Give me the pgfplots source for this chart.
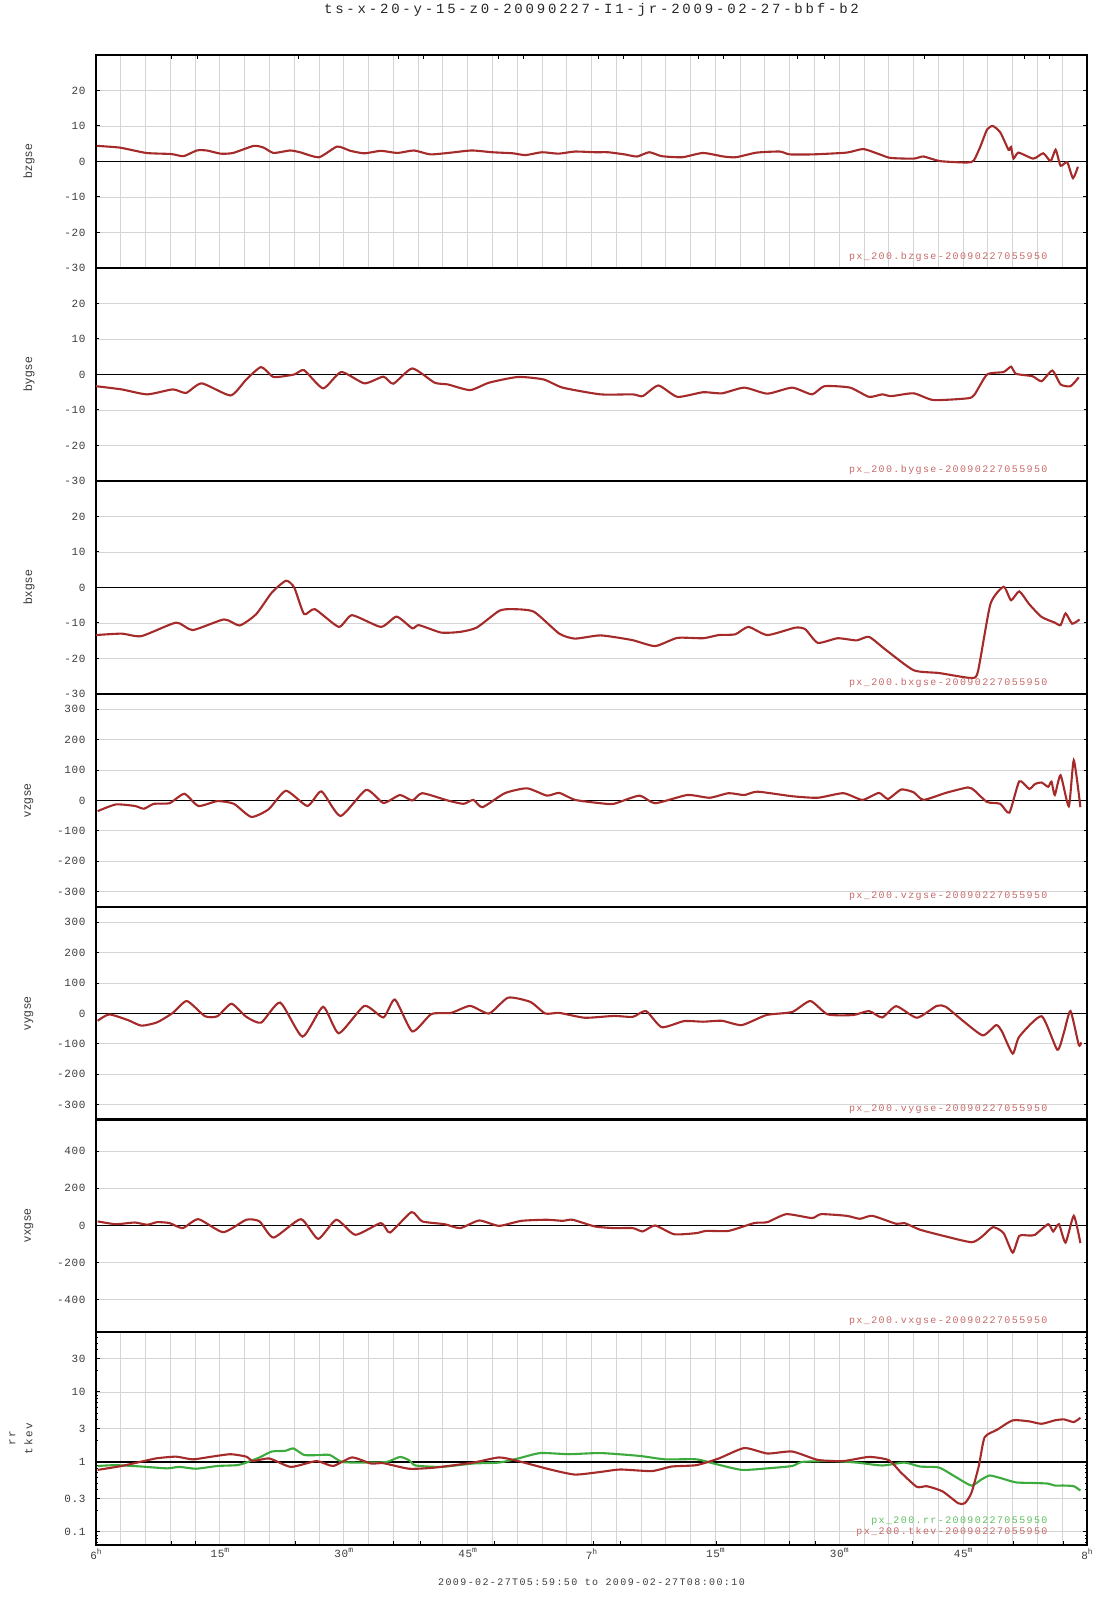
\documentclass[border=0pt]{standalone}
\usepackage{pgfplots}
\pgfplotsset{compat=1.18}
\usepackage{fontspec}
\setmainfont{Liberation Mono}
\newfontfamily\tickf[LetterSpace=6]{Liberation Mono}
\newfontfamily\annf[LetterSpace=14]{Liberation Mono}
\newfontfamily\titlef[LetterSpace=20]{Liberation Mono}
\newfontfamily\labf[LetterSpace=5]{Liberation Sans}
\definecolor{dred}{RGB}{165,42,42}
\definecolor{dgreen}{RGB}{60,170,60}
\definecolor{annred}{RGB}{198,105,105}
\definecolor{anngreen}{RGB}{95,190,95}
\definecolor{gridc}{RGB}{212,212,212}
\definecolor{tickc}{RGB}{60,60,60}
\pgfplotsset{
 panel/.style={
   scale only axis, width=991pt, height=213pt, xmin=0, xmax=120,
   anchor=south west,
   axis line style={black, line width=1.5pt},
   minor xtick={0,3,...,120}, xminorgrids, minor tick length=0pt,
   minor grid style={gridc, line width=0.9pt},
   major grid style={gridc, line width=0.9pt},
   xtick=\empty,
   ymajorgrids,
   major tick length=3.5pt,
   tick style={black, line width=1pt},
   yticklabel style={font=\tickf\fontsize{11}{12}\selectfont, text=tickc, xshift=-7pt},
   xticklabel style={font=\tickf\fontsize{11}{12}\selectfont, text=tickc},
   ylabel style={font=\labf\fontsize{12}{14}\selectfont, text=tickc, at={(axis description cs:-0.0676,0.5)}, anchor=center},
   every axis plot/.append style={line width=2.1pt, smooth, tension=0.35},
 },
 bfield/.style={ymin=-30, ymax=30, ytick={-30,-20,-10,0,10,20}, yticklabels={-30,-20,-10,0,10,20}},
 vfield/.style={ymin=-350, ymax=350, ytick={-300,-200,-100,0,100,200,300}, yticklabels={-300,-200,-100,0,100,200,300}},
}
\newcommand{\ann}[1]{\node[anchor=base east, font=\annf\fontsize{10}{12}\selectfont, text=annred] at (rel axis cs:0.9637,0.0376) {#1};}
\newcommand{\zeroline}{\addplot[black, line width=1.5pt, forget plot, sharp plot] coordinates {(0,0) (120,0)};}
\newcommand{\tsup}[1]{\raisebox{5pt}{\fontsize{8}{8}\selectfont #1}}
\begin{document}
\begin{tikzpicture}
\useasboundingbox (0,0) rectangle (1107pt,1600pt);
% ---------- bzgse
\begin{axis}[panel, bfield, at={(96pt,1332pt)}, ylabel={bzgse},
  xtick={9.2,12.3,24.5,36.6,39.7,48.7,51.8,60.8,63.9,72.9,76,85,88.2,100.3,112.4,115.4}, xticklabels={}, xtick pos=right, major tick length=4pt,
  title={ts-x-20-y-15-z0-20090227-I1-jr-2009-02-27-bbf-b2},
  title style={at={(axis description cs:0.5,1)}, anchor=base, yshift=35pt, font=\titlef\fontsize{14}{16}\selectfont, text=black!85}]
\zeroline
\addplot[dred] coordinates {(0.1,4.4) (2.9,3.9) (6.1,2.4) (9.1,2.1) (10.6,1.5) (12.2,3.1) (13.4,3.1) (15.1,2.2) (16.6,2.4) (19.1,4.4) (20.3,3.9) (21.5,2.4) (23.5,3.1) (24.7,2.6) (27,1.2) (29.2,4.2) (30.8,3.0) (32.5,2.3) (34.5,3.0) (36.5,2.4) (38.5,3.1) (40.5,2.0) (43,2.5) (45.5,3.1) (48,2.6) (50.5,2.3) (52,1.8) (54,2.6) (56,2.2) (58,2.8) (60.5,2.6) (62,2.6) (64,2.0) (65.5,1.4) (67,2.6) (68.5,1.5) (71,1.2) (73.5,2.4) (76,1.4) (77.5,1.2) (80,2.5) (82.8,2.8) (84,2.0) (86.8,2.0) (90.9,2.5) (92.9,3.5) (94.9,2.0) (96.2,1.0) (99,0.8) (100.2,1.4) (102.2,0.1) (105.5,-0.3) (106.3,0.3) (107.1,4.3) (107.9,9.0) (108.6,10.0) (109.5,8.2) (110.5,3.3) (110.8,4.1) (111.1,0.8) (111.7,2.5) (113.5,0.8) (114.7,2.3) (115.6,0.1) (116.2,3.3) (116.8,-1.2) (117.6,-0.2) (118.3,-4.7) (118.9,-1.5)};
\ann{px\_200.bzgse-20090227055950}
\end{axis}
% ---------- bygse
\begin{axis}[panel, bfield, at={(96pt,1119pt)}, ylabel={bygse}]
\zeroline
\addplot[dred] coordinates {(0,-3.3) (3.1,-4.2) (6.2,-5.6) (9.3,-4.2) (10.9,-5.2) (12.8,-2.5) (16.3,-5.9) (18.2,-1.4) (20,2.1) (21.5,-0.7) (24,0) (25.2,1.2) (27.5,-3.9) (29.7,0.7) (32.5,-2.5) (34.8,-0.6) (36,-2.6) (38.3,1.7) (41,-2.3) (42.6,-2.8) (45.3,-4.4) (47.6,-2.3) (51.1,-0.7) (54.2,-1.4) (56.5,-3.7) (61.1,-5.6) (65,-5.6) (66.2,-6.1) (68.1,-3.1) (70.4,-6.3) (73.5,-5) (75.8,-5.3) (78.5,-3.7) (81.3,-5.4) (84.3,-3.7) (86.7,-5.6) (88.2,-3.3) (91.3,-3.7) (93.6,-6.3) (95.2,-5.6) (96.3,-6.1) (99,-5.3) (101.4,-7.2) (105.6,-6.7) (106.4,-5.6) (107.9,0) (109.9,0.7) (110.8,2.2) (111.4,0.2) (113.4,-0.5) (114.5,-1.9) (115.8,1.1) (116.8,-2.8) (118,-3.3) (119,-0.8)};
\ann{px\_200.bygse-20090227055950}
\end{axis}
% ---------- bxgse
\begin{axis}[panel, bfield, at={(96pt,906pt)}, ylabel={bxgse}]
\zeroline
\addplot[dred] coordinates {(0,-13.4) (3.1,-13.0) (5.5,-13.7) (9.7,-9.9) (11.7,-12) (15.5,-9) (17.4,-10.7) (19.4,-7.5) (21.3,-1.4) (23,1.9) (24,0) (25.2,-7.5) (26.5,-6.1) (29.4,-11.1) (31,-7.8) (34.5,-11.1) (36.4,-8.2) (38.3,-11.5) (39.1,-10.6) (41.8,-12.7) (44.1,-12.5) (46.1,-11.3) (48.8,-6.6) (50.3,-6.1) (53,-6.8) (56.1,-13) (58,-14.4) (61.1,-13.5) (64.9,-14.8) (67.7,-16.5) (70.4,-14.2) (73.5,-14.3) (75.4,-13.4) (77.4,-13.2) (79,-11.1) (81.3,-13.4) (84.7,-11.3) (85.9,-11.8) (87.4,-15.6) (89.8,-14.3) (92.1,-14.9) (93.6,-13.9) (95.6,-17.5) (99,-23.3) (102.1,-24.1) (106,-25.5) (106.8,-23.6) (108.3,-4.7) (109.9,0.2) (110.8,-3.6) (111.8,-1.1) (113,-4.7) (114.5,-8.3) (116.1,-9.9) (116.8,-10.6) (117.4,-7.3) (118.2,-10.2) (119.1,-9)};
\ann{px\_200.bxgse-20090227055950}
\end{axis}
% ---------- vzgse
\begin{axis}[panel, vfield, at={(96pt,693pt)}, ylabel={vzgse}]
\zeroline
\addplot[dred] coordinates {(0.2,-35) (2.4,-13) (4.7,-18) (5.8,-27) (7,-11) (8.9,-9) (10.7,22) (12.4,-18) (14.7,-2) (16.7,-11) (18.8,-54) (20.9,-29) (23,32) (25.6,-18) (27.3,30) (29.6,-51) (32.7,35) (34.8,-8) (36.8,18) (38.3,0) (39.5,24) (42.6,0) (44.5,-11) (45.7,2) (46.8,-22) (49.5,24) (52.2,40) (54.6,16) (56.1,25) (58,2) (61.1,-9) (62.7,-11) (65.8,16) (67.7,-9) (71.6,18) (74.3,9) (76.6,24) (78.5,18) (80.1,29) (84.3,14) (87.4,9) (90.5,24) (92.8,2) (94.8,25) (95.9,5) (97.5,36) (99,27) (100.2,2) (102.9,25) (105.6,43) (106.4,32) (107.9,-5) (109.5,-11) (110.6,-40) (111.8,63) (113,38) (113.7,54) (114.5,59) (115.3,45) (115.7,62) (116.1,18) (116.8,83) (117.8,-19) (118.4,132) (119.2,-22)};
\ann{px\_200.vzgse-20090227055950}
\end{axis}
% ---------- vygse
\begin{axis}[panel, vfield, at={(96pt,480pt)}, ylabel={vygse}]
\zeroline
\addplot[dred] coordinates {(0.2,-24) (1.6,-3) (3.9,-22) (5.5,-40) (7.4,-29) (9.3,2) (11,41) (13.2,-9) (14.7,-9) (16.4,32) (18.2,-11) (20,-30) (22.3,36) (25,-76) (27.5,22) (29.4,-65) (32.5,25) (34.8,-13) (36.2,46) (38.3,-59) (40.6,-2) (43,2) (45.3,25) (47.6,0) (49.9,52) (52.6,38) (54.4,0) (56.1,2) (59.2,-14) (62.7,-8) (65,-11) (66.6,8) (68.5,-45) (71.2,-25) (73.5,-27) (75.8,-24) (78.2,-38) (81.2,-5) (84.3,5) (86.5,41) (88.6,-3) (91.7,-5) (93.6,8) (95.2,-13) (96.9,24) (99.4,-14) (101.8,25) (102.9,22) (105.2,-29) (107.4,-72) (109,-38) (109.7,-59) (111,-132) (111.8,-76) (114.5,-9) (116.4,-119) (117.2,-63) (118,8) (119,-103) (119.3,-95)};
\ann{px\_200.vygse-20090227055950}
\end{axis}
% ---------- vxgse
\begin{axis}[panel, at={(96pt,268pt)}, ylabel={vxgse}, ymin=-573, ymax=573, ytick={-400,-200,0,200,400}, yticklabels={-400,-200,0,200,400}]
\zeroline
\addplot[dred] coordinates {(0.2,22) (2.4,7) (4.7,16) (6.2,4) (7.4,18) (8.9,13) (10.5,-14) (12.4,34) (15.4,-36) (18.2,31) (19.8,22) (21.5,-65) (24.8,34) (26.9,-72) (29.1,31) (31.4,-50) (34.5,13) (35.6,-38) (38.2,72) (39.5,22) (42.2,7) (44.1,-14) (46.4,27) (48.8,-2) (51.5,25) (54.6,31) (56.5,25) (57.7,31) (60.4,-5) (62.7,-14) (65,-14) (66.2,-32) (67.7,0) (70,-47) (72.7,-41) (73.9,-29) (76.6,-29) (79.7,13) (81.3,18) (83.6,61) (86.7,40) (87.8,61) (90.9,52) (92.5,36) (94,52) (96.9,9) (97.9,13) (99.8,-23) (102.9,-59) (106,-90) (107.2,-63) (108.6,-9) (109.9,-41) (111,-146) (111.8,-56) (113,-54) (113.7,-50) (115.3,7) (115.9,-32) (116.6,7) (117.4,-92) (118.4,52) (119.2,-95)};
\ann{px\_200.vxgse-20090227055950}
\end{axis}
% ---------- rr / tkev
\begin{axis}[panel, at={(96pt,55pt)}, ymode=log, ymin=0.065, ymax=72,
  ytick={0.1,0.3,1,3,10,30}, yticklabels={0.1,0.3,1,3,10,30},
  extra y ticks={0.07,0.08,0.09,0.2,0.4,0.5,0.6,0.7,0.8,0.9,2,4,5,6,7,8,9,20,40,50,60,70},
  extra y tick labels={}, extra y tick style={grid=none, major tick length=2pt},
  xtick={9.1,12.1,24.1,36,39.3,48.2,60.2,63.5,75.1,84,87.1,98.9,111.1,117.2}, xticklabels={}, xtick pos=left, major tick length=4pt,
  extra x ticks={0,15,30,45,60,75,90,105,120},
  extra x tick labels={6\tsup{h},15\tsup{m},30\tsup{m},45\tsup{m},7\tsup{h},15\tsup{m},30\tsup{m},45\tsup{m},8\tsup{h}},
  extra x tick style={major tick length=0pt},
  ylabel={rr\\tkev}, ylabel style={align=center, font=\annf\fontsize{11}{17}\selectfont, at={(axis description cs:-0.0757,0.5)}},
  xlabel={2009-02-27T05:59:50 to 2009-02-27T08:00:10},
  xlabel style={at={(axis description cs:0.5,0)}, anchor=base, yshift=-40pt, font=\annf\fontsize{10}{12}\selectfont, text=tickc}]
\addplot[black, line width=1.5pt, forget plot, sharp plot] coordinates {(0,1) (120,1)};
\addplot[dgreen] coordinates {(0.2,0.875) (2.4,0.90) (5.5,0.86) (8.6,0.81) (10.1,0.85) (12.1,0.80) (14.7,0.875) (17.1,0.90) (18.2,0.98) (19.8,1.16) (21.3,1.41) (22.9,1.44) (23.9,1.56) (25.2,1.26) (26.7,1.25) (28.3,1.26) (29.8,1.0) (32.5,0.98) (35.2,1.0) (36.8,1.18) (37.9,1.06) (38.7,0.89) (41.8,0.85) (45.7,0.95) (48.8,0.98) (51.1,1.12) (53.8,1.34) (57.3,1.29) (61.1,1.34) (65.8,1.22) (68.9,1.09) (72.7,1.09) (75.1,0.93) (78.2,0.77) (81.3,0.81) (84.3,0.875) (85.5,1.0) (89,1.03) (92.1,0.98) (95.2,0.89) (97.9,0.98) (99.8,0.86) (102.1,0.83) (104.1,0.61) (106,0.46) (107.2,0.56) (108.2,0.64) (109.5,0.59) (111.4,0.51) (113.7,0.50) (115.3,0.49) (116.1,0.46) (117.2,0.46) (118.4,0.45) (119.2,0.39)};
\addplot[dred] coordinates {(0.2,0.77) (3.1,0.875) (5.8,1.03) (7.4,1.13) (9.7,1.19) (11.7,1.09) (14,1.19) (16.3,1.29) (18.2,1.19) (19,1.03) (21,1.12) (23.6,0.85) (26.7,1.03) (28.7,0.875) (31,1.16) (33.3,0.95) (34.8,0.96) (37.9,0.80) (41,0.83) (45.7,0.98) (48.8,1.16) (51.1,1.03) (55,0.78) (58,0.66) (61.1,0.72) (63.5,0.78) (67.3,0.74) (69.7,0.86) (72.7,0.90) (75.4,1.12) (78.5,1.58) (81.3,1.32) (84.3,1.41) (87.4,1.07) (90.5,1.03) (93.6,1.18) (96,1.06) (97.5,0.70) (99.4,0.44) (100.6,0.45) (102.5,0.38) (104.4,0.257) (105.2,0.257) (106,0.36) (106.9,0.875) (107.6,2.25) (109.1,2.88) (111,3.93) (113,3.8) (114.5,3.51) (116.1,3.93) (117.2,4.06) (118.4,3.72) (119.2,4.29)};
\node[anchor=base east, font=\annf\fontsize{10}{12}\selectfont, text=anngreen] at (rel axis cs:0.9637,0.103) {px\_200.rr-20090227055950};
\node[anchor=base east, font=\annf\fontsize{10}{12}\selectfont, text=annred] at (rel axis cs:0.9637,0.047) {px\_200.tkev-20090227055950};
\end{axis}
\end{tikzpicture}
\end{document}
